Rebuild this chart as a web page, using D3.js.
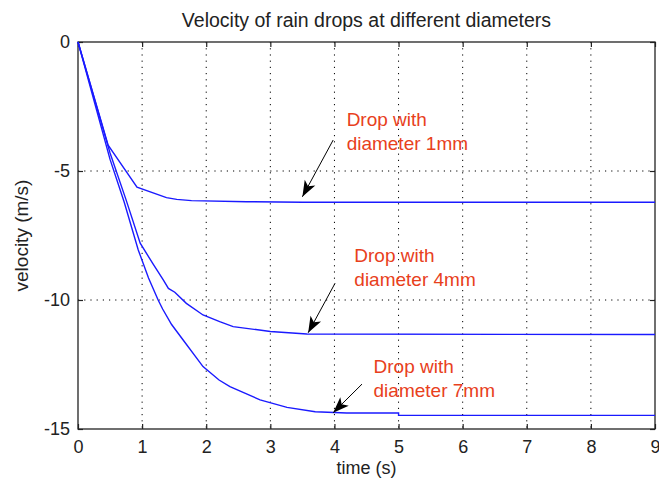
<!DOCTYPE html>
<html>
<head>
<meta charset="utf-8">
<script src="https://cdn.jsdelivr.net/npm/d3@7"></script>
<style>
  body { margin: 0; background: #fff; }
  svg text { font-family: "Liberation Sans", Arial, Helvetica, sans-serif; }
</style>
</head>
<body>
<svg id="chart" width="659" height="483"></svg>
<script>
// values
var xTicks = [0, 1, 2, 3, 4, 5, 6, 7, 8, 9];
var yTicks = [0, -5, -10, -15];

var time1mm = [0, 0.47, 0.92, 1.38, 1.54, 1.77, 2.63, 3.5, 9];
var vel1mm  = [0, -4.0, -5.63, -6.03, -6.1, -6.15, -6.19, -6.21, -6.21];

var time4mm = [0, 0.5, 0.75, 0.97, 1.17, 1.33, 1.41, 1.51, 1.69, 1.95, 2.21, 2.42, 3.0, 3.57, 9];
var vel4mm  = [0, -4.3, -6.12, -7.8, -8.6, -9.22, -9.55, -9.7, -10.13, -10.58, -10.84, -11.03, -11.22, -11.32, -11.34];

var time7mm = [0, 0.5, 0.72, 0.94, 1.1, 1.25, 1.32, 1.46, 1.64, 1.95, 2.2, 2.37, 2.84, 3.26, 3.7, 4.19, 5.0, 5.0, 9];
var vel7mm  = [0, -4.55, -6.2, -8.06, -9.15, -10.0, -10.35, -10.95, -11.55, -12.58, -13.1, -13.36, -13.87, -14.16, -14.33, -14.38, -14.38, -14.47, -14.47];

// annotation text lines, anchor (t, v) and arrow tail/tip (t, v)
var noteLines = [["Drop with", "diameter 1mm"], ["Drop with", "diameter 4mm"], ["Drop with", "diameter 7mm"]];
var noteAt    = [[4.19, -3.24], [4.31, -8.51], [4.61, -12.84]];
var arrowFrom = [[3.98, -3.8], [4.01, -9.35], [4.43, -13.26]];
var arrowTo   = [[3.5, -6.0], [3.59, -11.27], [3.98, -14.37]];

var width = 659, height = 483;
var margin = {top: 42, right: 4, bottom: 54, left: 78};
var w = width - margin.left - margin.right;
var h = height - margin.top - margin.bottom;

var svg = d3.select("#chart");
var g = svg.append("g").attr("transform", "translate(" + margin.left + "," + margin.top + ")");

var x = d3.scaleLinear().domain([0, 9]).range([0, w]);
var y = d3.scaleLinear().domain([-15, 0]).range([h, 0]);

// dotted grid
g.selectAll(".gx").data(xTicks.slice(1, -1)).enter().append("line")
  .attr("x1", d => x(d)).attr("x2", d => x(d))
  .attr("y1", 0).attr("y2", h)
  .attr("stroke", "#000").attr("stroke-width", 1)
  .attr("stroke-dasharray", "1.2,5");
g.selectAll(".gy").data(yTicks.slice(1, -1)).enter().append("line")
  .attr("x1", 0).attr("x2", w)
  .attr("y1", d => y(d)).attr("y2", d => y(d))
  .attr("stroke", "#000").attr("stroke-width", 1)
  .attr("stroke-dasharray", "1.2,5");

// axes, matlab style ticks pointing inward, plain hyphen for minus
var fmt = d => String(d);
g.append("g").attr("transform", "translate(0," + h + ")")
  .call(d3.axisBottom(x).tickValues(xTicks).tickFormat(fmt).tickSizeInner(-5).tickSizeOuter(0).tickPadding(11));
g.append("g")
  .call(d3.axisLeft(y).tickValues(yTicks).tickFormat(fmt).tickSizeInner(-5).tickSizeOuter(0).tickPadding(8));
g.append("g")
  .call(d3.axisTop(x).tickValues(xTicks).tickSizeInner(-5).tickSizeOuter(0).tickFormat(""));
g.append("g").attr("transform", "translate(" + w + ",0)")
  .call(d3.axisRight(y).tickValues(yTicks).tickSizeInner(-5).tickSizeOuter(0).tickFormat(""));

svg.selectAll(".domain").remove();
svg.selectAll(".tick line").attr("stroke", "#222").attr("stroke-width", 1.2);
svg.selectAll(".tick text").attr("fill", "#222").style("font-size", "18px");

g.append("rect").attr("x", 0).attr("y", 0).attr("width", w).attr("height", h)
  .attr("fill", "none").attr("stroke", "#222").attr("stroke-width", 1.3);

// curves
var line = d3.line().x(d => x(d[0])).y(d => y(d[1]));
var series = [d3.zip(time1mm, vel1mm), d3.zip(time4mm, vel4mm), d3.zip(time7mm, vel7mm)];
g.selectAll(".curve").data(series).enter().append("path")
  .attr("class", "curve")
  .attr("d", line)
  .attr("fill", "none")
  .attr("stroke", "#1a1aff")
  .attr("stroke-width", 1.4);

// arrows
for (let i = 0; i < arrowFrom.length; i++) {
  let x0 = x(arrowFrom[i][0]), y0 = y(arrowFrom[i][1]);
  let x1 = x(arrowTo[i][0]), y1 = y(arrowTo[i][1]);
  let ang = Math.atan2(y1 - y0, x1 - x0) * 180 / Math.PI;
  g.append("line")
    .attr("x1", x0).attr("y1", y0).attr("x2", x1).attr("y2", y1)
    .attr("stroke", "#000").attr("stroke-width", 1);
  g.append("path")
    .attr("d", "M0,0 L-16,-6 L-12,0 L-16,6 Z")
    .attr("transform", "translate(" + x1 + "," + y1 + ") rotate(" + ang + ")")
    .attr("fill", "#000");
}

// annotation texts
for (let i = 0; i < noteLines.length; i++) {
  let t = g.append("text")
    .attr("x", x(noteAt[i][0])).attr("y", y(noteAt[i][1]))
    .attr("fill", "#e8401c")
    .style("font-size", "19px");
  noteLines[i].forEach(function (s, j) {
    t.append("tspan").attr("x", x(noteAt[i][0])).attr("dy", j == 0 ? 0 : 24).text(s);
  });
}

// title and axis labels
svg.append("text")
  .attr("x", margin.left + w / 2).attr("y", 27)
  .attr("text-anchor", "middle").attr("fill", "#222")
  .style("font-size", "19.5px")
  .text("Velocity of rain drops at different diameters");
svg.append("text")
  .attr("x", margin.left + w / 2).attr("y", 474)
  .attr("text-anchor", "middle").attr("fill", "#222")
  .style("font-size", "18px")
  .text("time (s)");
svg.append("text")
  .attr("transform", "translate(28," + (margin.top + h / 2) + ") rotate(-90)")
  .attr("text-anchor", "middle").attr("fill", "#222")
  .style("font-size", "19px")
  .text("velocity (m/s)");
</script>
</body>
</html>
